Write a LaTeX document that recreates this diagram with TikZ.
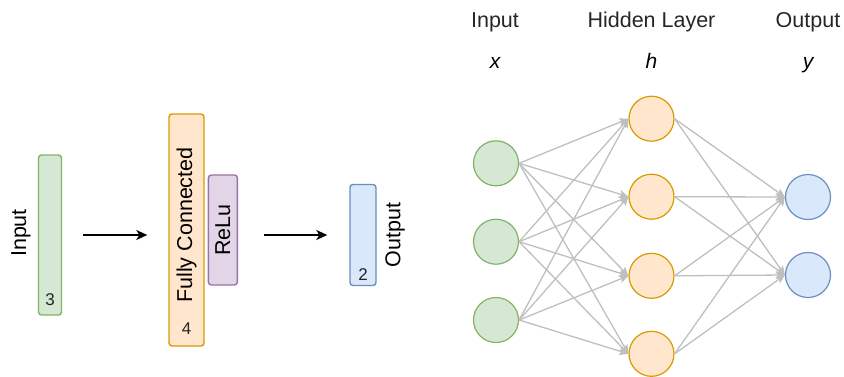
\documentclass[tikz,border=0pt]{standalone}
\usepackage{fontspec}
\setmainfont{Liberation Sans}
\usepackage{tikz}
\usetikzlibrary{arrows.meta, positioning}
\definecolor{ingreen}{HTML}{82b366}
\definecolor{fcorange}{HTML}{d79b00}
\definecolor{relupurple}{HTML}{9673a6}
\definecolor{outblue}{HTML}{6c8ebf}
\definecolor{lightgreen}{HTML}{d5e8d4}
\definecolor{lightorange}{HTML}{ffe6cc}
\definecolor{lightpurple}{HTML}{e1d5e7}
\definecolor{lightblue}{HTML}{dae8fc}
\definecolor{linkgray}{HTML}{bfbfbf}
\tikzstyle{layerbox} = [rectangle, rounded corners=3pt, inner sep=0pt, line width=1.4pt]
\tikzstyle{inbox} = [layerbox, draw=ingreen, fill=lightgreen, minimum width=23pt, minimum height=160pt]
\tikzstyle{fcbox} = [layerbox, draw=fcorange, fill=lightorange, minimum width=35pt, minimum height=232pt]
\tikzstyle{relubox} = [layerbox, draw=relupurple, fill=lightpurple, minimum width=29pt, minimum height=110pt]
\tikzstyle{outbox} = [layerbox, draw=outblue, fill=lightblue, minimum width=26pt, minimum height=101pt]
\tikzstyle{sidetext} = [rotate=90, font=\fontsize{21.5}{26}\selectfont]
\tikzstyle{numtext} = [inner sep=0pt, font=\fontsize{17}{20}\selectfont, text=black!85]
\tikzstyle{arrow} = [line width=1.6pt, -{Stealth[length=11pt, width=10pt, inset=3pt]}]
% network
\tikzstyle{neuron} = [circle, minimum size=45pt, inner sep=0pt, line width=1.2pt]
\tikzstyle{xnode} = [neuron, draw=ingreen, fill=lightgreen]
\tikzstyle{hnode} = [neuron, draw=fcorange, fill=lightorange]
\tikzstyle{ynode} = [neuron, draw=outblue, fill=lightblue]
\tikzstyle{link} = [draw=linkgray, line width=1.3pt, -{Stealth[length=9pt, width=8pt, inset=2pt]}]
\tikzstyle{titletext} = [anchor=base, inner sep=0pt, font=\fontsize{21.5}{26}\selectfont, text=black!85]
\tikzstyle{vartext} = [anchor=base, inner sep=0pt, font=\fontsize{21}{25}\selectfont\itshape]

\begin{document}
\begin{tikzpicture}[x=1pt, y=-1pt]
  \useasboundingbox (0,0) rectangle (844,376);

  % Block view
  \node (inp) [inbox] at (50,235) {};
  \node (inplabel) [sidetext] at (21,233) {Input};
  \node (n3) [numtext] at ([yshift=16pt]inp.south) {3};

  \node (fc) [fcbox, label={[sidetext, xshift=5pt]center:Fully Connected}] at (186.5,230) {};
  \node (n4) [numtext] at ([yshift=18pt]fc.south) {4};
  \node (relu) [relubox, right=3pt of fc, label={[sidetext]center:ReLu}] {};

  \node (out) [outbox] at (363,235) {};
  \node (n2) [numtext] at ([yshift=12pt]out.south) {2};
  \node (outlabel) [sidetext] at (395,235) {Output};

  \draw[arrow, shorten <=21pt, shorten >=21pt] (inp.east) -- (inp.east -| fc.west);
  \draw[arrow, shorten <=26pt, shorten >=22pt] (relu.east |- out.west) -- (out.west);

  % Network view
  \node (tin)  [titletext] at (495,27) {Input};
  \node (thid) [titletext] at (651.5,27) {Hidden Layer};
  \node (tout) [titletext] at (808,27) {Output};
  \node (vx) [vartext] at (495,68) {x};
  \node (vh) [vartext] at (651.5,68) {h};
  \node (vy) [vartext] at (808,68) {y};

  \foreach \i/\y in {1/163.3, 2/241.7, 3/320}
    \node (x\i) [xnode] at (496,\y) {};
  \foreach \j/\y in {1/118.7, 2/196.7, 3/275.8, 4/353.8}
    \node (h\j) [hnode] at (651.5,\y) {};
  \foreach \k/\y in {1/197, 2/275}
    \node (y\k) [ynode] at (808,\y) {};

  \foreach \i in {1,2,3}
    \foreach \j in {1,2,3,4}
      \draw[link] (x\i.east) -- (h\j.west);
  \foreach \j in {1,2,3,4}
    \foreach \k in {1,2}
      \draw[link] (h\j.east) -- (y\k.west);
\end{tikzpicture}
\end{document}
